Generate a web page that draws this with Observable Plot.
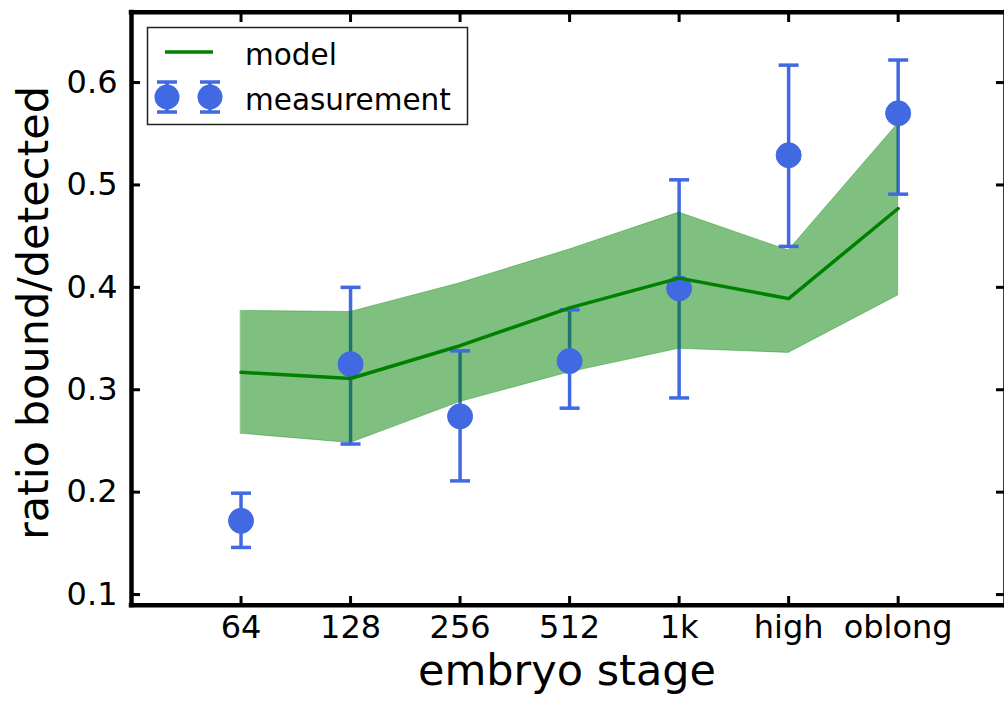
<!DOCTYPE html>
<html>
<head>
<meta charset="utf-8">
<script src="https://cdn.jsdelivr.net/npm/d3@7"></script>
<script src="https://cdn.jsdelivr.net/npm/@observablehq/plot@0.6"></script>
<style>
  html, body { margin: 0; padding: 0; background: white; }
  #wrap { position: relative; width: 1004px; height: 704px; overflow: hidden; }
  #legend { position: absolute; left: 0; top: 0; pointer-events: none; }
</style>
</head>
<body>
<div id="wrap"></div>
<script>
// ---- data ----
const stages      = ["64", "128", "256", "512", "1k", "high", "oblong"];
const modelMean   = [0.317, 0.311, 0.343, 0.380, 0.409, 0.389, 0.477];
const modelUpper  = [0.377, 0.376, 0.404, 0.437, 0.473, 0.436, 0.560];
const modelLower  = [0.257, 0.248, 0.288, 0.317, 0.340, 0.336, 0.392];
const measured    = [0.172, 0.325, 0.274, 0.328, 0.399, 0.529, 0.570];
const errLow      = [0.146, 0.247, 0.211, 0.282, 0.292, 0.440, 0.491];
const errHigh     = [0.199, 0.400, 0.338, 0.378, 0.505, 0.617, 0.622];
const yTicks      = [0.1, 0.2, 0.3, 0.4, 0.5, 0.6];
const yDomain     = [0.0896, 0.6687];
const xDomain     = [-1, 6.98];

const data = stages.map((s, i) => ({
  i, stage: s,
  mean: modelMean[i], lo: modelLower[i], hi: modelUpper[i],
  m: measured[i], eLo: errLow[i], eHi: errHigh[i]
}));
const xTicks = stages.map((s, i) => i);

const BLUE = "#4169E1";
const GREEN = "#008000";
const capSymbol = { draw(ctx) { ctx.moveTo(-10, 0); ctx.lineTo(10, 0); } };

const chart = Plot.plot({
  width: 1004,
  height: 704,
  marginLeft: 131,
  marginRight: 0,
  marginTop: 12,
  marginBottom: 99,
  style: { fontFamily: "DejaVu Sans", fontSize: "32px", color: "black", background: "white" },
  x: { type: "linear", domain: xDomain, range: [131, 1005] },
  y: { domain: yDomain, range: [604.7, 11.7] },
  marks: [
    // error bars (under the band)
    Plot.ruleX(data, { x: "i", y1: "eLo", y2: "eHi", stroke: BLUE, strokeWidth: 3.5 }),
    // model band
    Plot.areaY(data, { x: "i", y1: "lo", y2: "hi", fill: GREEN, fillOpacity: 0.5,
                       stroke: GREEN, strokeOpacity: 0.35, strokeWidth: 1 }),
    // caps
    Plot.dot(data, { x: "i", y: "eHi", symbol: capSymbol, stroke: BLUE, strokeWidth: 3.5, fill: "none" }),
    Plot.dot(data, { x: "i", y: "eLo", symbol: capSymbol, stroke: BLUE, strokeWidth: 3.5, fill: "none" }),
    // measurements
    Plot.dot(data, { x: "i", y: "m", r: 12.5, fill: BLUE, stroke: BLUE, strokeWidth: 1 }),
    // model line
    Plot.line(data, { x: "i", y: "mean", stroke: GREEN, strokeWidth: 3.5 }),
    // frame spines
    Plot.ruleX([xDomain[0]], { strokeWidth: 4.5, strokeLinecap: "square" }),
    Plot.ruleX([xDomain[1]], { strokeWidth: 4.5, strokeLinecap: "square" }),
    Plot.ruleY([yDomain[0]], { strokeWidth: 4.5, strokeLinecap: "square" }),
    Plot.ruleY([yDomain[1]], { strokeWidth: 4.5, strokeLinecap: "square" }),
    // axes: labels
    Plot.axisX(xTicks, { anchor: "bottom", tickSize: 0, tickPadding: 10,
                         tickFormat: i => stages[i], label: null, fontSize: 32 }),
    Plot.axisY(yTicks, { anchor: "left", tickSize: 0, tickPadding: 14,
                         tickFormat: d3.format(".1f"), label: null, fontSize: 32 }),
    // axes: inward ticks on all sides
    Plot.axisX(xTicks, { anchor: "bottom", tickSize: -9, fill: "none", strokeWidth: 3, label: null }),
    Plot.axisX(xTicks, { anchor: "top", tickSize: -9, fill: "none", strokeWidth: 3, label: null }),
    Plot.axisY(yTicks, { anchor: "left", tickSize: -9, fill: "none", strokeWidth: 3, label: null }),
    Plot.axisY(yTicks, { anchor: "right", tickSize: -9, fill: "none", strokeWidth: 3, label: null }),
    // axis titles
    Plot.text(["embryo stage"], { frameAnchor: "bottom", dy: 66, dx: -1, fontSize: 43, fill: "black",
                                  textAnchor: "middle", lineAnchor: "middle" }),
    Plot.text(["ratio bound/detected"], { frameAnchor: "left", dx: -97, dy: 4, rotate: -90, fontSize: 43,
                                          fill: "black", textAnchor: "middle", lineAnchor: "middle" })
  ]
});

const wrap = document.getElementById("wrap");
wrap.appendChild(chart);

// ---- legend overlay ----
const svg = d3.select(wrap).append("svg")
  .attr("id", "legend")
  .attr("width", 1004).attr("height", 704)
  .style("font-family", "DejaVu Sans");

svg.append("rect")
  .attr("x", 147.5).attr("y", 27.5).attr("width", 320).attr("height", 97)
  .attr("fill", "white").attr("stroke", "#222").attr("stroke-width", 1.5);

svg.append("line")
  .attr("x1", 165).attr("x2", 213).attr("y1", 52).attr("y2", 52)
  .attr("stroke", GREEN).attr("stroke-width", 3.5);
svg.append("text").attr("x", 245).attr("y", 65)
  .attr("font-size", 29.5).attr("fill", "black").text("model");

[167, 210].forEach(cx => {
  const g = svg.append("g");
  g.append("line").attr("x1", cx).attr("x2", cx).attr("y1", 82).attr("y2", 112)
    .attr("stroke", BLUE).attr("stroke-width", 3.5);
  g.append("line").attr("x1", cx - 10).attr("x2", cx + 10).attr("y1", 82).attr("y2", 82)
    .attr("stroke", BLUE).attr("stroke-width", 3.5);
  g.append("line").attr("x1", cx - 10).attr("x2", cx + 10).attr("y1", 112).attr("y2", 112)
    .attr("stroke", BLUE).attr("stroke-width", 3.5);
  g.append("circle").attr("cx", cx).attr("cy", 97).attr("r", 12.5).attr("fill", BLUE);
});
svg.append("text").attr("x", 245).attr("y", 110)
  .attr("font-size", 29.5).attr("fill", "black").text("measurement");
</script>
</body>
</html>
